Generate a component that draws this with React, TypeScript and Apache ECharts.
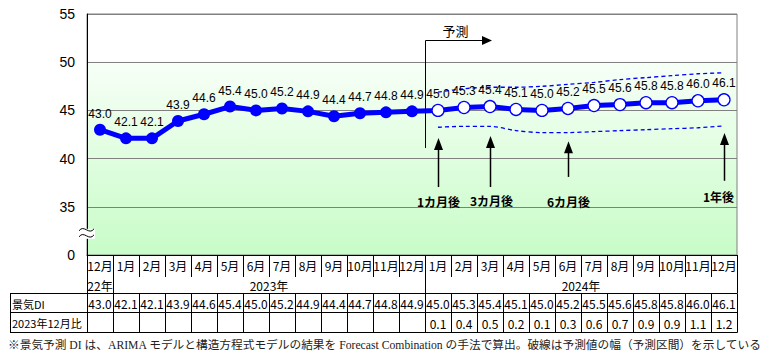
import React, { useEffect, useRef } from "react";
import * as echarts from "echarts";

const months = ["12月", "1月", "2月", "3月", "4月", "5月", "6月", "7月", "8月", "9月", "10月", "11月", "12月", "1月", "2月", "3月", "4月", "5月", "6月", "7月", "8月", "9月", "10月", "11月", "12月"];
const yearSpans: { label: string; from: number; to: number }[] = [
  { label: "22年", from: 0, to: 0 },
  { label: "2023年", from: 1, to: 12 },
  { label: "2024年", from: 13, to: 24 },
];
const diValues = [43.0, 42.1, 42.1, 43.9, 44.6, 45.4, 45.0, 45.2, 44.9, 44.4, 44.7, 44.8, 44.9, 45.0, 45.3, 45.4, 45.1, 45.0, 45.2, 45.5, 45.6, 45.8, 45.8, 46.0, 46.1];
const ratioValues: (number | null)[] = [null, null, null, null, null, null, null, null, null, null, null, null, null, 0.1, 0.4, 0.5, 0.2, 0.1, 0.3, 0.6, 0.7, 0.9, 0.9, 1.1, 1.2];
const upperBand: (number | null)[] = [null, null, null, null, null, null, null, null, null, null, null, null, null, 46.9, 47.25, 47.4, 47.4, 47.5, 47.7, 47.9, 48.2, 48.4, 48.6, 48.8, 48.9];
const lowerBand: (number | null)[] = [null, null, null, null, null, null, null, null, null, null, null, null, null, 43.25, 43.35, 43.35, 42.9, 42.7, 42.7, 42.8, 42.9, 43.0, 43.1, 43.2, 43.4];
const forecastStart = 13;
const yTickLabels = ["0", "35", "40", "45", "50", "55"];
const rowLabels = ["景気DI", "2023年12月比"];
const milestones = [
  { label: "1カ月後", index: 13, tail: 37.05, tip: 42.14, text: 35.6, dx: 0 },
  { label: "3カ月後", index: 15, tail: 37.05, tip: 42.34, text: 35.7, dx: 1 },
  { label: "6カ月後", index: 18, tail: 38.1, tip: 41.8, text: 35.5, dx: 0 },
  { label: "1年後", index: 24, tail: 37.7, tip: 42.66, text: 36.1, dx: -6 },
];
const forecastLabel = "予測";
const footnote = "※景気予測 DI は、ARIMA モデルと構造方程式モデルの結果を Forecast Combination の手法で算出。破線は予測値の幅（予測区間）を示している";

const JP = "'Noto Sans CJK JP', 'Liberation Sans', sans-serif";
const SANS = "'Liberation Sans', Arial, sans-serif";

export default function App() {
  const ref = useRef<HTMLDivElement>(null);
  useEffect(() => {
    document.body.style.margin = "0";
    if (!ref.current) return;
    const chart = echarts.init(ref.current, undefined, { renderer: "svg" });
    const blue = "#0000ff";
    chart.setOption({
      animation: false,
      grid: {
        left: 87,
        right: 43,
        top: 14,
        bottom: 101,
        show: true,
        borderColor: "#808080",
        borderWidth: 1,
        backgroundColor: new echarts.graphic.LinearGradient(0, 0, 0, 1, [
          { offset: 0, color: "#ffffff" },
          { offset: 0.19, color: "#ffffff" },
          { offset: 0.2, color: "#f7fff7" },
          { offset: 1, color: "#c8fcc8" },
        ]),
      },
      xAxis: {
        type: "category",
        data: months,
        boundaryGap: true,
        axisLine: { lineStyle: { color: "#000", width: 1 } },
        axisTick: { show: true, length: 22, lineStyle: { color: "#000" } },
        axisLabel: { color: "#000", fontSize: 12, fontFamily: JP, margin: 4, interval: 0 },
        splitLine: { show: false },
      },
      yAxis: {
        type: "value",
        min: 30,
        max: 55,
        interval: 5,
        axisLine: { show: true, lineStyle: { color: "#000" } },
        axisTick: { show: false },
        axisLabel: {
          color: "#000",
          fontSize: 14,
          fontFamily: SANS,
          margin: 12,
          formatter: (_v: number, i: number) => yTickLabels[i],
        },
        splitLine: { lineStyle: { color: "#808080", width: 1 } },
      },
      series: [
        {
          type: "line",
          data: upperBand,
          symbol: "none",
          smooth: 0.3,
          lineStyle: { color: blue, width: 1.3, type: [4, 3] },
          z: 2,
        },
        {
          type: "line",
          data: lowerBand,
          symbol: "none",
          smooth: 0.3,
          lineStyle: { color: blue, width: 1.3, type: [4, 3] },
          z: 2,
        },
        {
          type: "line",
          data: diValues.map((v, i) =>
            i >= forecastStart
              ? { value: v, itemStyle: { color: "#ffffff", borderColor: blue, borderWidth: 1.3 } }
              : { value: v }
          ),
          symbol: "circle",
          symbolSize: 12,
          lineStyle: { color: blue, width: 5 },
          itemStyle: { color: blue },
          label: {
            show: true,
            position: "top",
            distance: 4,
            color: "#000",
            fontSize: 12,
            fontFamily: SANS,
            formatter: (p: any) => Number(p.value).toFixed(1),
          },
          z: 3,
        },
      ],
    });

    const px = (i: number, v: number) => chart.convertToPixel({ gridIndex: 0 }, [i, v]) as number[];
    const cw = px(1, 45)[0] - px(0, 45)[0];
    const colLeft = (i: number) => px(i, 45)[0] - cw / 2;
    const colCenter = (i: number) => px(i, 45)[0];
    const n = months.length;
    const tableRight = colLeft(n - 1) + cw;
    const plotBottom = px(0, 30)[1];
    const monthBottom = plotBottom + 22;
    const yearBottom = monthBottom + 16;
    const diBottom = yearBottom + 19;
    const ratioBottom = diBottom + 20;
    const labelLeft = 10;
    const r = (x: number) => Math.round(x) + 0.5;
    const els: any[] = [];
    const line = (x1: number, y1: number, x2: number, y2: number, w = 1) =>
      els.push({ type: "line", shape: { x1, y1, x2, y2 }, style: { stroke: "#000", lineWidth: w }, z: 10 });

    [yearBottom, diBottom, ratioBottom].forEach((y) => line(labelLeft, r(y), r(tableRight), r(y)));
    const yearEdges = [colLeft(0), ...yearSpans.map((s) => colLeft(s.to) + cw)];
    yearEdges.forEach((x) => line(r(x), monthBottom, r(x), yearBottom));
    const colEdges = [labelLeft, ...Array.from({ length: n + 1 }, (_, k) => colLeft(0) + k * cw)];
    colEdges.forEach((x) => line(r(x), r(yearBottom), r(x), r(ratioBottom)));

    yearSpans.forEach((s) => {
      els.push({
        type: "text",
        x: (colLeft(s.from) + colLeft(s.to) + cw) / 2,
        y: (monthBottom + yearBottom) / 2,
        style: { text: s.label, fill: "#000", font: `12px ${JP}`, align: "center", verticalAlign: "middle" },
        z: 10,
      });
    });
    diValues.forEach((v, i) => {
      els.push({
        type: "text",
        x: colCenter(i),
        y: (yearBottom + diBottom) / 2 + 1,
        style: { text: v.toFixed(1), fill: "#000", font: `12px ${JP}`, align: "center", verticalAlign: "middle" },
        z: 10,
      });
    });
    ratioValues.forEach((v, i) => {
      if (v === null) return;
      els.push({
        type: "text",
        x: colCenter(i),
        y: (diBottom + ratioBottom) / 2 + 1,
        style: { text: v.toFixed(1), fill: "#000", font: `12px ${JP}`, align: "center", verticalAlign: "middle" },
        z: 10,
      });
    });
    rowLabels.forEach((t, k) => {
      const top = k === 0 ? yearBottom : diBottom;
      const bot = k === 0 ? diBottom : ratioBottom;
      els.push({
        type: "text",
        x: labelLeft + 2,
        y: (top + bot) / 2 + 1,
        style: { text: t, fill: "#000", font: `11px ${JP}`, align: "left", verticalAlign: "middle" },
        z: 10,
      });
    });

    // axis break symbol
    const bp = px(0, 32.3);
    const bx = colLeft(0);
    els.push({ type: "rect", shape: { x: bx - 6, y: bp[1] - 4, width: 14, height: 10 }, style: { fill: "#ffffff" }, z: 11 });
    [-3, 3].forEach((d) =>
      els.push({
        type: "bezierCurve",
        shape: { x1: bx - 8, y1: bp[1] + d + 1, cpx1: bx - 3, cpy1: bp[1] + d - 6, cpx2: bx + 2, cpy2: bp[1] + d + 6, x2: bx + 7, y2: bp[1] + d - 1 },
        style: { stroke: "#000", lineWidth: 1, fill: "none" },
        z: 12,
      })
    );

    // forecast bracket
    const xb = r((colCenter(forecastStart - 1) + colCenter(forecastStart)) / 2);
    const yBot = px(0, 41.1)[1];
    const yTop = Math.round(px(0, 52.3)[1]) + 0.5;
    const xa = colCenter(15) + 2;
    els.push({ type: "polyline", shape: { points: [[xb, yBot], [xb, yTop], [xa - 8, yTop]] }, style: { stroke: "#000", lineWidth: 1, fill: "none" }, z: 10 });
    els.push({ type: "polygon", shape: { points: [[xa - 10, yTop - 4.5], [xa, yTop], [xa - 10, yTop + 4.5]] }, style: { fill: "#000" }, z: 10 });
    els.push({
      type: "text",
      x: xb + 30,
      y: yTop - 10,
      style: { text: forecastLabel, fill: "#000", font: `13px ${JP}`, align: "center", verticalAlign: "middle" },
      z: 10,
    });

    milestones.forEach((m) => {
      const x = r(colCenter(m.index));
      const tail = px(0, m.tail)[1];
      const tip = px(0, m.tip)[1];
      const ty = px(0, m.text)[1];
      line(x, tail, x, tip + 8, 1.5);
      els.push({ type: "polygon", shape: { points: [[x - 4.5, tip + 12], [x, tip], [x + 4.5, tip + 12]] }, style: { fill: "#000" }, z: 10 });
      els.push({
        type: "text",
        x: x + m.dx,
        y: ty,
        style: { text: m.label, fill: "#000", font: `bold 12px ${JP}`, align: "center", verticalAlign: "middle" },
        z: 10,
      });
    });

    els.push({
      type: "text",
      x: 8,
      y: ratioBottom + 13,
      style: { text: footnote, fill: "#222", font: `11.7px 'Liberation Serif', 'Noto Sans CJK JP', serif`, align: "left", verticalAlign: "middle" },
      z: 10,
    });

    chart.setOption({ graphic: { elements: els } });
    return () => chart.dispose();
  }, []);
  return <div ref={ref} style={{ width: 780, height: 356 }} />;
}
